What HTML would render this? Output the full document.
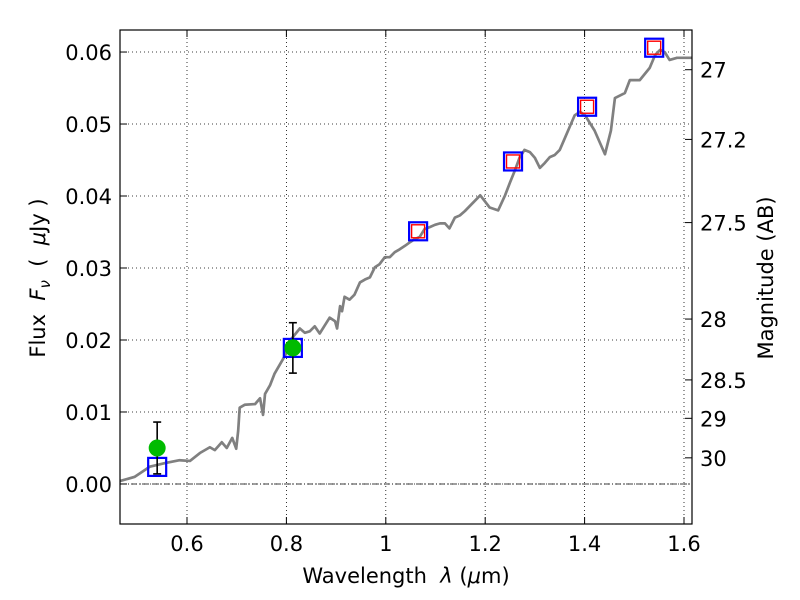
<!DOCTYPE html>
<html><head><meta charset="utf-8"><style>
body{margin:0;background:#fff;}
svg{display:block;font-family:"DejaVu Sans","Liberation Sans",sans-serif;}
</style></head><body>
<svg id="chart" width="800" height="600" viewBox="0 0 800 600"></svg>
<script>
const specLam=[0.465,0.495,0.525,0.556,0.585,0.606,0.626,0.646,0.656,0.670,0.680,0.691,0.699,0.703,0.706,0.716,0.737,0.747,0.753,0.757,0.767,0.776,0.797,0.807,0.827,0.837,0.847,0.857,0.867,0.877,0.887,0.898,0.902,0.908,0.912,0.917,0.927,0.937,0.948,0.958,0.968,0.978,0.987,0.998,1.008,1.018,1.028,1.039,1.049,1.058,1.068,1.078,1.089,1.099,1.109,1.119,1.128,1.139,1.149,1.159,1.190,1.199,1.209,1.226,1.240,1.250,1.260,1.269,1.279,1.290,1.300,1.310,1.320,1.330,1.340,1.350,1.360,1.370,1.380,1.391,1.401,1.420,1.441,1.453,1.461,1.481,1.491,1.511,1.531,1.542,1.552,1.561,1.571,1.586,1.606,1.616];
const specFlux=[0.0004,0.001,0.0024,0.0029,0.0033,0.0032,0.0043,0.0051,0.0047,0.0058,0.005,0.0064,0.0049,0.0074,0.0106,0.011,0.0111,0.0119,0.0096,0.0125,0.0137,0.0153,0.0178,0.0199,0.0216,0.021,0.0212,0.0219,0.0209,0.0220,0.0231,0.0226,0.0216,0.0247,0.024,0.026,0.0256,0.0263,0.028,0.0284,0.0287,0.0301,0.0305,0.0315,0.0315,0.0322,0.0326,0.0331,0.0336,0.034,0.0343,0.0354,0.0357,0.036,0.0362,0.0362,0.0355,0.037,0.0373,0.0379,0.0401,0.0393,0.0384,0.0380,0.0401,0.0419,0.0436,0.0453,0.0464,0.0461,0.0453,0.0439,0.0446,0.0454,0.0457,0.0464,0.048,0.0496,0.0512,0.0517,0.0512,0.0491,0.0458,0.0491,0.0536,0.0543,0.0561,0.0561,0.0578,0.0596,0.0603,0.06,0.0589,0.0592,0.0592,0.0592];
const bandLam=[0.540,0.813,1.065,1.256,1.405,1.540];
const bandFlux=[0.00237,0.0189,0.0351,0.0448,0.0524,0.0606];
const modelLam=[1.065,1.256,1.405,1.540];
const modelFlux=[0.0351,0.0448,0.0524,0.0606];
const obsLam=[0.540,0.813];
const obsFlux=[0.005,0.0189];
const obsErr=[0.0036,0.0035];
const xTicks=[0.6,0.8,1.0,1.2,1.4,1.6];
const xTickLabels=["0.6","0.8","1","1.2","1.4","1.6"];
const yTicks=[0,0.01,0.02,0.03,0.04,0.05,0.06];
const yTickLabels=["0.00","0.01","0.02","0.03","0.04","0.05","0.06"];
const magTicks=[27,27.2,27.5,28,28.5,29,30];
const magTickLabels=["27","27.2","27.5","28","28.5","29","30"];

const L=120,R=692,T=30,B=524;
const x0=0.4652,x1=1.6161,y0=-0.00556,y1=0.06306;
const X=v=>L+(v-x0)/(x1-x0)*(R-L);
const Y=v=>B-(v-y0)/(y1-y0)*(B-T);
const NS="http://www.w3.org/2000/svg";
const svg=document.getElementById('chart');
function mk(tag,attrs,parent){const e=document.createElementNS(NS,tag);for(const k in attrs)e.setAttribute(k,attrs[k]);(parent||svg).appendChild(e);return e;}

const grid=mk('g',{});


xTicks.forEach(t=>{mk('line',{x1:X(t),x2:X(t),y1:T,y2:B,stroke:'#000','stroke-width':0.8,'stroke-dasharray':'1,3'},grid);});
yTicks.forEach(t=>{mk('line',{x1:L,x2:R,y1:Y(t),y2:Y(t),stroke:'#000','stroke-width':0.8,'stroke-dasharray':'1,3'},grid);});
const zl=mk('line',{x1:L,x2:R,y1:Y(0),y2:Y(0),stroke:'#000','stroke-width':0.8,'stroke-dasharray':'6,2,1,2'});



const sp=mk('polyline',{points:specLam.map((l,i)=>X(l)+','+Y(specFlux[i])).join(' '),fill:'none',stroke:'#808080','stroke-width':2.7,'stroke-linejoin':'round'});



bandLam.forEach((l,i)=>{const r=mk('rect',{x:X(l)-9,y:Y(bandFlux[i])-9,width:18,height:18,fill:'none',stroke:'#0000ff','stroke-width':2.2});

});
modelLam.forEach((l,i)=>{const r=mk('rect',{x:X(l)-6.5,y:Y(modelFlux[i])-6.5,width:13,height:13,fill:'none',stroke:'#ff0000','stroke-width':1.4});

});
obsLam.forEach((l,i)=>{const g=mk('g',{});


const xx=X(l),yt=Y(obsFlux[i]+obsErr[i]),yb=Y(obsFlux[i]-obsErr[i]);
mk('line',{x1:xx,x2:xx,y1:yt,y2:yb,stroke:'#000','stroke-width':1.6},g);
mk('line',{x1:xx-4,x2:xx+4,y1:yt,y2:yt,stroke:'#000','stroke-width':1.6},g);
mk('line',{x1:xx-4,x2:xx+4,y1:yb,y2:yb,stroke:'#000','stroke-width':1.6},g);
mk('circle',{cx:xx,cy:Y(obsFlux[i]),r:8.5,fill:'#00bb00'},g);});

const fr=mk('rect',{x:L,y:T,width:R-L,height:B-T,fill:'none',stroke:'#000','stroke-width':1.2});



xTicks.forEach((t,i)=>{mk('line',{x1:X(t),x2:X(t),y1:B,y2:B-7,stroke:'#000'});mk('line',{x1:X(t),x2:X(t),y1:T,y2:T+7,stroke:'#000'});
const tx=mk('text',{x:X(t),y:B+27,'font-size':21,'text-anchor':'middle'});tx.textContent=xTickLabels[i];

});
yTicks.forEach((t,i)=>{mk('line',{x1:L,x2:L+7,y1:Y(t),y2:Y(t),stroke:'#000'});
const tx=mk('text',{x:L-8,y:Y(t)+8,'font-size':21,'text-anchor':'end'});tx.textContent=yTickLabels[i];

});
magTicks.forEach((m,i)=>{const yy=Y(Math.pow(10,(23.9-m)/2.5));mk('line',{x1:R,x2:R-7,y1:yy,y2:yy,stroke:'#000'});
const tx=mk('text',{x:R+8,y:yy+8,'font-size':21});tx.textContent=magTickLabels[i];

});
</script>
<svg width="800" height="600" style="position:absolute;left:0;top:0;font-family:'DejaVu Sans','Liberation Sans',sans-serif">
<text x="406" y="583" font-size="21" text-anchor="middle" xml:space="preserve">Wavelength  <tspan font-style="italic">λ</tspan> (<tspan font-style="italic">μ</tspan>m)</text>
<text transform="translate(45,278) rotate(-90)" font-size="21" text-anchor="middle" xml:space="preserve">Flux  <tspan font-style="italic">F</tspan><tspan font-style="italic" font-size="15" dy="5">ν</tspan><tspan dy="-5">  (  </tspan><tspan font-style="italic">μ</tspan>Jy )</text>
<text transform="translate(773,278) rotate(-90)" font-size="21" text-anchor="middle">Magnitude (AB)</text>
</svg>
</body></html>
